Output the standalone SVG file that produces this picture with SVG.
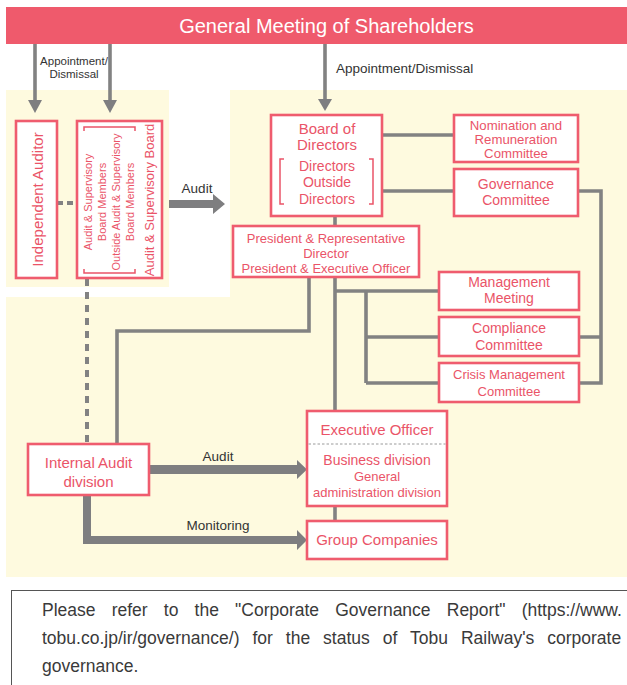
<svg xmlns="http://www.w3.org/2000/svg" width="627" height="685" viewBox="0 0 627 685">
<style>
.panel{fill:#fefadf}
.box{fill:#fff;stroke:#ef5c6e;stroke-width:2.6}
.t{font-family:"Liberation Sans",Arial,sans-serif;fill:#ea5468;text-anchor:middle}
.lbl{font-family:"Liberation Sans",Arial,sans-serif;fill:#333;text-anchor:middle}
.lbls{font-family:"Liberation Sans",Arial,sans-serif;fill:#333;text-anchor:start}
.conn{fill:none;stroke:#828282;stroke-width:3.6}
.dash{fill:none;stroke:#828282;stroke-width:4}
.thick{fill:#7e7e80}
.br{fill:none;stroke:#ea5468;stroke-width:1.5}
</style>
<rect width="627" height="685" fill="#fff"/>
<g id="panels">
<rect class="panel" x="6" y="90" width="163" height="197"/>
<rect class="panel" x="230" y="90" width="397" height="207"/>
<rect class="panel" x="6" y="297" width="621" height="280"/>
</g>
<g id="general-meeting">
<rect x="6" y="7" width="621" height="37" fill="#ef5a6c"/>
<text x="326.5" y="33" font-family="Liberation Sans, Arial, sans-serif" font-size="20" fill="#fff" text-anchor="middle">General Meeting of Shareholders</text>
</g>
<g id="connectors">
<path class="conn" d="M35 44V101M110 44V101M325 44V100"/>
<polygon class="thick" points="28,100 42,100 35,113"/>
<polygon class="thick" points="103,100 117,100 110,113"/>
<polygon class="thick" points="318,99 332,99 325,111"/>
<text class="lbl" x="74" y="65" font-size="11.5">Appointment/</text>
<text class="lbl" x="74" y="78" font-size="11.5">Dismissal</text>
<text class="lbls" x="336" y="73" font-size="13.5">Appointment/Dismissal</text>
<path class="conn" d="M382 135H454M382 191H454M578 191H601V383H579M579 337H601M335 216V226M335 277V411M335 291H439M366 291V383M366 337H439M366 383H439M309 277V331H117V444M335 506V521"/>
<path class="dash" d="M57 203H77" stroke-dasharray="6 4"/>
<path class="dash" d="M87 279V444" stroke-dasharray="7 6"/>
<polygon class="thick" points="169,200 213,200 213,194 225,204 213,214 213,208 169,208"/>
<text class="lbl" x="197" y="193" font-size="13.5">Audit</text>
<polygon class="thick" points="149,465 297,465 297,460 307,469.5 297,479 297,474 149,474"/>
<text class="lbl" x="218" y="461" font-size="13.5">Audit</text>
<polygon class="thick" points="83,495 91,495 91,536 297,536 297,530 307,540 297,550 297,544 83,544"/>
<text class="lbl" x="218" y="530" font-size="13.5">Monitoring</text>
</g>
<g id="independent-auditor">
<rect class="box" x="16" y="121" width="41" height="157"/>
<text class="t" font-size="15" dominant-baseline="central" transform="translate(37 199.5) rotate(-90)">Independent Auditor</text>
</g>
<g id="audit-supervisory-board">
<rect class="box" x="77" y="121" width="85" height="157"/>
<path class="br" d="M84 131V127H135V131M84 269V273H135V269"/>
<text class="t" font-size="11" dominant-baseline="central" transform="translate(88 202) rotate(-90)">Audit &amp; Supervisory</text>
<text class="t" font-size="11" dominant-baseline="central" transform="translate(101.5 202) rotate(-90)">Board Members</text>
<text class="t" font-size="11" dominant-baseline="central" transform="translate(116 202) rotate(-90)">Outside Audit &amp; Supervisory</text>
<text class="t" font-size="11" dominant-baseline="central" transform="translate(130 202) rotate(-90)">Board Members</text>
<text class="t" font-size="13" dominant-baseline="central" transform="translate(149.5 200) rotate(-90)">Audit &amp; Supervisory Board</text>
</g>
<g id="board-of-directors">
<rect class="box" x="271" y="115" width="111" height="101"/>
<text class="t" x="327" y="134" font-size="15">Board of</text>
<text class="t" x="327" y="150" font-size="15">Directors</text>
<path class="br" d="M284 159H280V204H284M369 159H373V204H369"/>
<text class="t" x="327" y="171" font-size="14">Directors</text>
<text class="t" x="327" y="187" font-size="14">Outside</text>
<text class="t" x="327" y="204" font-size="14">Directors</text>
</g>
<g id="nomination-committee">
<rect class="box" x="454" y="115" width="124" height="47"/>
<text class="t" x="516" y="129.5" font-size="13.2">Nomination and</text>
<text class="t" x="516" y="143.5" font-size="13.2">Remuneration</text>
<text class="t" x="516" y="157.5" font-size="13.2">Committee</text>
</g>
<g id="governance-committee">
<rect class="box" x="454" y="169" width="124" height="47"/>
<text class="t" x="516" y="189" font-size="14">Governance</text>
<text class="t" x="516" y="205" font-size="14">Committee</text>
</g>
<g id="president">
<rect class="box" x="233" y="226" width="186" height="51"/>
<text class="t" x="326" y="243" font-size="13">President &amp; Representative</text>
<text class="t" x="326" y="257.5" font-size="13">Director</text>
<text class="t" x="326" y="272.5" font-size="13">President &amp; Executive Officer</text>
</g>
<g id="management-meeting">
<rect class="box" x="439" y="272" width="140" height="38"/>
<text class="t" x="509" y="287" font-size="14">Management</text>
<text class="t" x="509" y="303" font-size="14">Meeting</text>
</g>
<g id="compliance-committee">
<rect class="box" x="439" y="317" width="140" height="39"/>
<text class="t" x="509" y="333" font-size="14">Compliance</text>
<text class="t" x="509" y="350" font-size="14">Committee</text>
</g>
<g id="crisis-committee">
<rect class="box" x="439" y="363" width="140" height="39"/>
<text class="t" x="509" y="378.5" font-size="13">Crisis Management</text>
<text class="t" x="509" y="395.5" font-size="13">Committee</text>
</g>
<g id="executive-officer">
<rect class="box" x="307" y="411" width="140" height="95"/>
<text class="t" x="377" y="435" font-size="15">Executive Officer</text>
<path d="M308.5 444H445.5" stroke="#9a9a9a" stroke-width="1" stroke-dasharray="2.5 2"/>
<text class="t" x="377" y="465" font-size="14">Business division</text>
<text class="t" x="377" y="481" font-size="13">General</text>
<text class="t" x="377" y="496.5" font-size="13">administration division</text>
</g>
<g id="group-companies">
<rect class="box" x="307" y="521" width="140" height="38"/>
<text class="t" x="377" y="545" font-size="15">Group Companies</text>
</g>
<g id="internal-audit">
<rect class="box" x="28" y="444" width="121" height="51"/>
<text class="t" x="88.5" y="468" font-size="15">Internal Audit</text>
<text class="t" x="88.5" y="486.5" font-size="15">division</text>
</g>
<g id="note">
<rect x="11.5" y="590.5" width="630" height="110" fill="none" stroke="#555" stroke-width="1"/>
<text font-family="Liberation Sans, Arial, sans-serif" font-size="17.5" fill="#3a3a3a">
<tspan x="42" y="616" word-spacing="11.3">Please refer to the "Corporate Governance Report" (https://www.</tspan>
<tspan x="42" y="644" word-spacing="8.1">tobu.co.jp/ir/governance/) for the status of Tobu Railway's corporate</tspan>
<tspan x="42" y="672">governance.</tspan>
</text>
</g>
</svg>
